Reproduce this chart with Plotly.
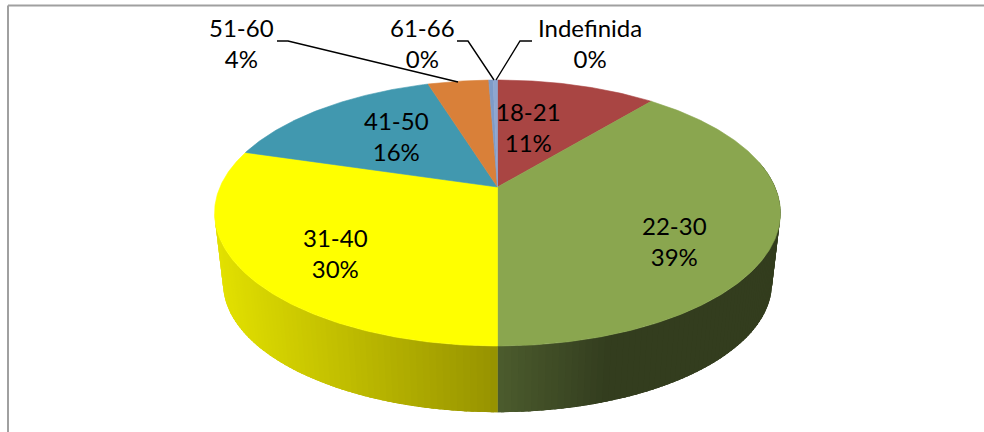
import math
import plotly.graph_objects as go

# Age bands and their share of respondents, clockwise from twelve o'clock
categories = ["18-21", "22-30", "31-40", "41-50", "51-60", "61-66", "Indefinida"]
shares = [11.0, 39.0, 29.6, 15.6, 4.2, 0.3, 0.3]

top_colors = ["#A94543", "#8AA64F", "#FFFF00", "#4198AF", "#D98039", "#7E9BC8", "#8EA6D0"]
# Rim shade at the left/right end of the visible part of each slice
rim_shades = {
    "22-30": ("#4C5C2E", "#333D1E"),
    "31-40": ("#E2E000", "#969200"),
}

label_anchors = {
    "18-21": (528, 127), "22-30": (674, 241), "31-40": (335, 253), "41-50": (396, 136),
    "51-60": (241, 43), "61-66": (422, 43), "Indefinida": (590, 43),
}
leaders = {
    "51-60": [(277, 41), (288, 41), (458, 82)],
    "61-66": [(457, 41), (468, 41), (494, 80)],
    "Indefinida": [(532, 41), (520, 41), (496, 80)],
}

# Perspective disc: pixel-space parameters of the tilted pie
CX, CY = 497.5, 187.0
RX, RY, PERSP = 277.5, 127.9, 0.1955
DROP, BOTTOM_SCALE = 71.0, 0.97


def top_point(theta):
    """Clockwise angle from twelve o'clock to a point on the upper rim."""
    s, c = math.sin(theta), math.cos(theta)
    w = 1 + PERSP * c
    return CX + RX * s / w, CY - RY * c / w


def bottom_point(theta):
    x, y = top_point(theta)
    return CX + (x - CX) * BOTTOM_SCALE, CY + (y - CY) * BOTTOM_SCALE + DROP


def mix(a, b, f):
    pa = [int(a[i:i + 2], 16) for i in (1, 3, 5)]
    pb = [int(b[i:i + 2], 16) for i in (1, 3, 5)]
    return "rgb({},{},{})".format(*[round(p + (q - p) * f) for p, q in zip(pa, pb)])


def polygon(points, color, edge=0.6):
    return go.Scatter(
        x=[p[0] for p in points] + [points[0][0]],
        y=[p[1] for p in points] + [points[0][1]],
        mode="lines" if edge else "none", fill="toself", fillcolor=color,
        line=dict(color=color, width=edge), hoverinfo="skip", showlegend=False,
    )


fig = go.Figure()

total = sum(shares)
bounds = [0.0]
for v in shares:
    bounds.append(bounds[-1] + v / total * 2 * math.pi)

# Visible rim: overlapping quads running across the front of the disc, so no
# background shows through between neighbours
left_limit = 3 * math.pi / 2 - 0.2  # left silhouette of the disc
right_limit = math.pi / 2 - 0.2
for name, start, end in zip(categories, bounds[:-1], bounds[1:]):
    if name not in rim_shades:
        continue
    a, b = max(start, right_limit), min(end, left_limit)
    if b <= a:
        continue
    steps = max(2, int((b - a) / 0.02))
    shade_left, shade_right = rim_shades[name]
    order = range(steps) if name == "22-30" else range(steps - 1, -1, -1)
    for i in order:
        t0 = a + (b - a) * i / steps
        t1 = a + (b - a) * (i + 1) / steps
        xm = (top_point(t0)[0] + top_point(t1)[0]) / 2
        if name == "22-30":
            f = min(1.0, max(0.0, (xm - CX) / 110))
            t_far, t_near = t0, min(b, t1 + 0.03)
        else:
            f = 1 - min(1.0, max(0.0, (CX - xm) / 280))
            t_far, t_near = max(a, t0 - 0.03), t1
        fig.add_trace(polygon(
            [top_point(t_far), top_point(t_near), bottom_point(t_near), bottom_point(t_far)],
            mix(shade_left, shade_right, f), edge=0,
        ))

# Upper face of each slice
for color, start, end in zip(top_colors, bounds[:-1], bounds[1:]):
    steps = max(2, int((end - start) / 0.01))
    rim = [top_point(start + (end - start) * i / steps) for i in range(steps + 1)]
    fig.add_trace(polygon([(CX, CY)] + rim, color))

for name, pts in leaders.items():
    fig.add_trace(go.Scatter(
        x=[p[0] for p in pts], y=[p[1] for p in pts], mode="lines",
        line=dict(color="#000000", width=1.4), hoverinfo="skip", showlegend=False,
    ))

for name, value in zip(categories, shares):
    x, y = label_anchors[name]
    fig.add_annotation(
        x=x, y=y, xref="x", yref="y", showarrow=False, align="center",
        text=f"{name}<br>{round(value)}%",
        font=dict(family="Lato, Carlito, sans-serif", size=24, color="#000000"),
    )

# Only the top and left edges of the frame fall inside the page
frame = dict(type="line", xref="x", yref="y", line=dict(color="#A0A0A0", width=2), layer="below")

fig.update_layout(
    width=984, height=432, margin=dict(l=0, r=0, t=0, b=0),
    paper_bgcolor="#FFFFFF", plot_bgcolor="#FFFFFF", showlegend=False,
    xaxis=dict(range=[0, 984], visible=False, fixedrange=True),
    yaxis=dict(range=[432, 0], visible=False, fixedrange=True),
    shapes=[
        dict(frame, x0=8, y0=5.5, x1=984, y1=5.5),
        dict(frame, x0=8, y0=5.5, x1=8, y1=432),
    ],
)

fig.write_html("out.html")
